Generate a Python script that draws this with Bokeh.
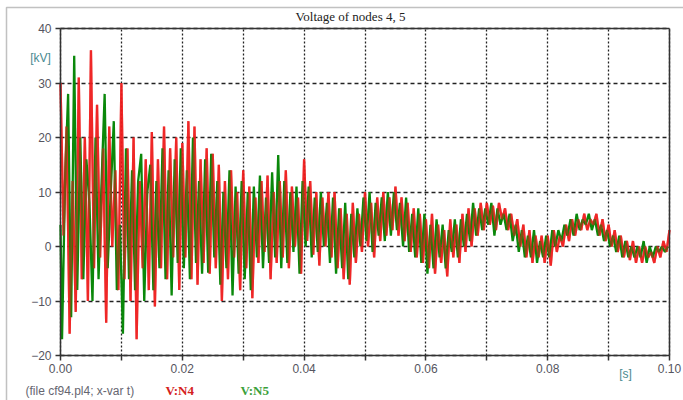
from bokeh.plotting import figure
from bokeh.models import Range1d, Label, FixedTicker, LinearAxis, BoxAnnotation, Grid
from bokeh.embed import file_html
from bokeh.resources import INLINE

# time step of the sampled curves (s)
dt = 0.0005

# V:N4 (red), one value per 0.0005 s
v_n4 = [
    30, 2, 22, -16, 12, -12, 31, -6, 20, -10,
    36, -4, 26, -2, 18, -14, 22, 0, 14, -8,
    30, -6, 18, -10, 20, -17, 12, -4, 16, -8,
    21, -11, 16, -4, 22, -6, 18, -2, 20, -8,
    19, -2, 23, -6, 22, -7, 16, -3, 18, -5,
    17, -4, 15, -10, 12, -6, 14, -2, 10, -8,
    14, -4, 11, -9.5, 9, -3, 12, -1, 13, -6,
    10, -3, 12, -2, 14, -4, 11, 0, 9, -5,
    16, 1, 12, -1.5, 10, -3.5, 9, 0, 10, -2,
    10, -4, 7, -6, 6, -7, 8, -3, 6, -1,
    10, 0, 8, -2, 9, 1, 10, 2, 9, 3,
    11, 2, 9, 1, 8, -1, 7, -2, 6, -3,
    5, -4, 6, -5, 4, -3, 3, -5.5, 5, -2,
    4, -3, 6, -1, 7, 0, 7, 2, 8, 3,
    8, 4, 7.5, 3, 8, 5, 7, 3, 6, 2,
    5, 0, 4, -2, 3, -3, 2, -2, 2, -3,
    2, -3.5, 3, -1, 2, 0, 4, 1, 5, 2,
    5, 3, 6, 3, 5, 4, 6, 2, 5, 1,
    4, 0, 3, -1, 2, -2, 1, -2.5, 1, -3,
    0, -3, 0, -2, -1, -3, 0, -2, 1, -1,
    3,
]

# V:N5 (green): first value at t = 0, then one value per 0.0005 s from 0.00025 s
v_n5 = [
    4, -17, 12, 28, -13, 35, -8, 20, -6, 16,
    8, -10, 20, -6, 12, 28, -4, 10, 23, -8,
    4, -16, 18, -6, 14, -8, 12, 17, -10, 10,
    15, -8, 12, -4, 18, -6, 14, -9, 16, -3,
    18, -4, 14, -6, 20, -3, 12, -5, 16, -4.8,
    17, -2, 12, -7, 10, -4, 14, -9, 11, -5,
    12, -6, 10, -8, 11, -2, 13, -4, 9, -3,
    13.6, -2, 16.8, -4, 12, -3, 10, -1, 11, -5,
    12, 0, 11, -2, 9, -1, 10, 0, 8, -3,
    9, -5, 7, -4, 8, -6, 6, -2, 7, 0,
    9, 1, 10, -1, 8, 2, 9, 1, 10, 2,
    10, 3, 8, 0, 9, -1, 6, -2, 7, -3,
    6, -5, 4, -4, 5, -2, 4, -4, 3, -1,
    5, -2, 5, 0, 6, 1, 8, 2, 7, 3,
    7, 4, 8, 2, 7, 4, 6, 3, 6, 1,
    4, -1, 3, -2, 2, -2, 3, -3, 1, -2,
    2, -2, 3, 0, 3, 1, 4, 2, 5, 2,
    6, 3, 5, 4, 6, 3, 5, 2, 4, 1,
    3, 0, 2, -1, 2, -2, 1, -2, 0, -2,
    0, -2, 1, -3, 0, -2, 0, -1, 0, -1,
    0,
]

t_n4 = [i * dt for i in range(len(v_n4))]
t_n5 = [0.0] + [(i - 0.5) * dt for i in range(1, len(v_n5))]

x_min, x_max = 0.0, 0.1
y_min, y_max = -20, 40
x_ticks = [0.00, 0.02, 0.04, 0.06, 0.08, 0.10]
x_minor_ticks = [0.01, 0.03, 0.05, 0.07, 0.09]
x_tick_labels = ["0.00", "0.02", "0.04", "0.06", "0.08", "0.10"]
y_ticks = [-20, -10, 0, 10, 20, 30, 40]

title_text = "Voltage of nodes 4, 5"
file_text = "(file cf94.pl4; x-var t)"
series_names = ["V:N4", "V:N5"]
y_unit = "[kV]"
x_unit = "[s]"

# The frame fills the whole canvas so that the texts and the outer box are not
# clipped; the axes are pinned at the data edges of the plotting area.
W, H = 683, 400
left_px, right_px, top_px, bottom_px = 60, 669, 28, 355
sx = (right_px - left_px) / (x_max - x_min)
sy = (bottom_px - top_px) / (y_max - y_min)
x_range = Range1d(x_min - left_px / sx, x_max + (W - right_px) / sx)
y_range = Range1d(y_min - (H - bottom_px) / sy, y_max + top_px / sy)

p = figure(width=W, height=H, output_backend="svg", toolbar_location=None,
           x_range=x_range, y_range=y_range,
           min_border_left=0, min_border_right=0, min_border_top=0,
           min_border_bottom=0)
p.background_fill_color = "white"
p.border_fill_color = "white"
p.outline_line_color = None

# axes
p.xaxis.fixed_location = y_min
p.xaxis.bounds = (x_min, x_max)
p.xaxis.ticker = FixedTicker(ticks=x_ticks, minor_ticks=x_minor_ticks)
p.xaxis.major_label_overrides = {t: s for t, s in zip(x_ticks, x_tick_labels)}
p.yaxis.fixed_location = x_min
p.yaxis.bounds = (y_min, y_max)
p.yaxis.ticker = FixedTicker(ticks=y_ticks)
for ax in (p.xaxis, p.yaxis):
    ax.axis_line_color = "#333333"
    ax.axis_line_width = 1.5
    ax.major_tick_line_color = "#333333"
    ax.major_tick_line_width = 1.5
    ax.major_tick_out = 5
    ax.major_tick_in = 0
    ax.major_label_text_color = "#555560"
    ax.major_label_text_font = "Liberation Sans"
    ax.major_label_text_font_size = "12px"
p.xaxis.minor_tick_line_color = "#333333"
p.xaxis.minor_tick_line_width = 1.5
p.xaxis.minor_tick_out = 5
p.xaxis.minor_tick_in = 0
p.yaxis.minor_tick_line_color = None
p.xaxis.major_label_standoff = 3
p.yaxis.major_label_standoff = 4

# top and right borders of the plotting area
top_axis = LinearAxis(fixed_location=y_max, bounds=(x_min, x_max),
                      ticker=FixedTicker(ticks=[]), axis_line_color="#333333",
                      axis_line_width=1.5, major_label_text_color=None,
                      major_tick_line_color=None, minor_tick_line_color=None)
right_axis = LinearAxis(fixed_location=x_max, bounds=(y_min, y_max),
                        ticker=FixedTicker(ticks=[]), axis_line_color="#333333",
                        axis_line_width=1.5, major_label_text_color=None,
                        major_tick_line_color=None, minor_tick_line_color=None)
p.add_layout(top_axis, "above")
p.add_layout(right_axis, "right")

# grid
p.xgrid.grid_line_color = "#222222"
p.xgrid.grid_line_dash = "2 2"
p.xgrid.grid_line_width = 1.3
p.xgrid.minor_grid_line_color = "#222222"
p.xgrid.minor_grid_line_dash = "2 2"
p.xgrid.minor_grid_line_width = 1.3
p.ygrid.grid_line_color = "#222222"
p.ygrid.grid_line_dash = "4 3"
p.ygrid.grid_line_width = 1.3
if "cross_bounds" in Grid.properties():
    p.xgrid.cross_bounds = (y_min, y_max)
    p.ygrid.cross_bounds = (x_min, x_max)
else:
    p.xgrid.visible = False
    p.ygrid.visible = False
    gx = x_ticks + x_minor_ticks
    p.segment(x0=gx, y0=[y_min] * len(gx), x1=gx, y1=[y_max] * len(gx),
              line_color="#222222", line_dash="2 2", line_width=1.3)
    p.segment(x0=[x_min] * len(y_ticks), y0=y_ticks, x1=[x_max] * len(y_ticks),
              y1=y_ticks, line_color="#222222", line_dash="4 3", line_width=1.3)

# curves: red underneath, green, then translucent red so overlaps turn brown
p.line(t_n4, v_n4, line_color="#ee1c1c", line_width=2.3, line_alpha=0.9)
p.line(t_n5, v_n5, line_color="#0a880a", line_width=2.3)
p.line(t_n4, v_n4, line_color="#ee1c1c", line_width=2.3, line_alpha=0.5)

# outer box of the window
p.add_layout(BoxAnnotation(left=6, right=W + 10, top=7, bottom=H + 10,
                           left_units="canvas", right_units="canvas",
                           top_units="canvas", bottom_units="canvas",
                           fill_color=None, line_color="#333333", line_width=1.5))

# texts
def add_text(x, y, text, align, font, size, color, style="normal"):
    p.add_layout(Label(x=x, y=y, x_units="canvas", y_units="canvas", text=text,
                       text_align=align, text_baseline="middle", text_font=font,
                       text_font_size=size, text_color=color, text_font_style=style))

add_text(350, 16, title_text, "center", "Liberation Serif", "13px", "#222222")
add_text(40, 57, y_unit, "center", "Liberation Sans", "12px", "#4a8a90")
add_text(625, 373, x_unit, "center", "Liberation Sans", "12px", "#4a8a90")
add_text(25, 390, file_text, "left", "Liberation Sans", "12px", "#666670")
add_text(165, 390, series_names[0], "left", "Liberation Serif", "13px", "#d42020", "bold")
add_text(240, 390, series_names[1], "left", "Liberation Serif", "13px", "#3aa03a", "bold")

open("out.html", "w").write(file_html(p, INLINE))
